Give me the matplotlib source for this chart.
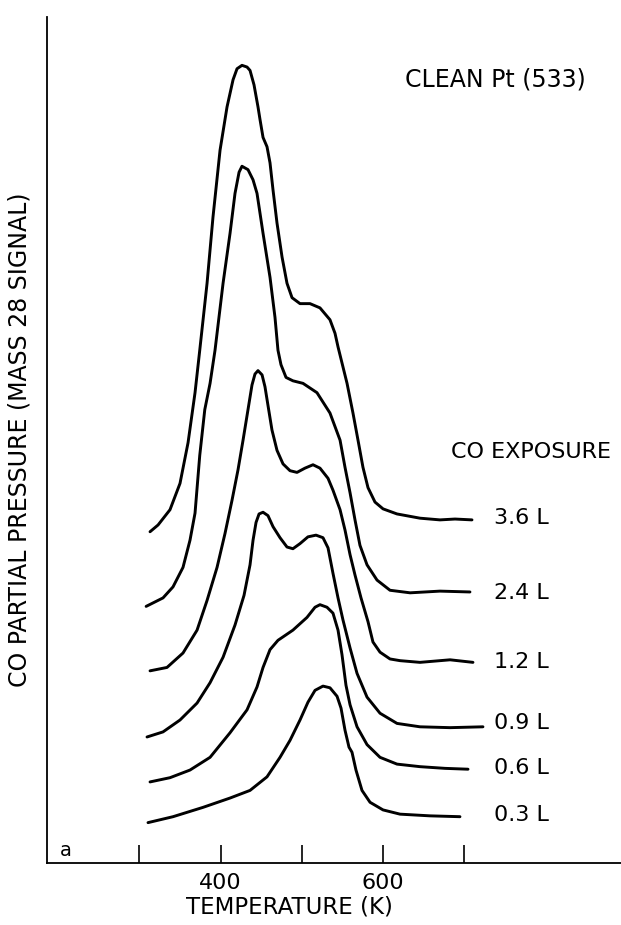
import matplotlib
matplotlib.use('Agg')
import matplotlib.pyplot as plt

plt.rcParams['font.family'] = ['DejaVu Sans']

# ---------------- data (temperature in K, signal in arbitrary units) -------------
exposures = ['3.6 L', '2.4 L', '1.2 L', '0.9 L', '0.6 L', '0.3 L']

t_36 = [313.1, 323.0, 337.7, 350.0, 359.9, 368.5, 374.3, 383.3, 390.6, 399.3, 407.9,
        415.3, 420.2, 426.3, 432.5, 436.2, 441.1, 446.0, 448.5, 452.2, 457.1, 460.8,
        464.5, 469.4, 475.6, 481.7, 487.9, 497.7, 510.0, 522.3, 534.6, 540.8, 544.5,
        555.6, 562.9, 569.1, 575.2, 581.4, 590.0, 599.9, 617.1, 645.4, 670.0, 688.5, 709.4]
s_36 = [39.3, 40.1, 41.9, 45.0, 49.8, 55.7, 60.7, 68.6, 76.4, 84.3, 89.4,
        92.6, 93.9, 94.3, 94.1, 93.7, 92.0, 89.4, 87.9, 85.8, 84.7, 82.8,
        79.6, 75.7, 71.7, 68.6, 66.9, 66.2, 66.2, 65.7, 64.3, 62.7, 61.1,
        56.8, 53.3, 50.1, 46.9, 44.5, 42.8, 42.0, 41.4, 40.9, 40.7, 40.8, 40.7]

t_24 = [308.3, 329.1, 341.4, 353.7, 362.3, 368.5, 374.3, 380.5, 387.0, 393.1, 403.0,
        411.6, 417.7, 422.7, 426.3, 433.7, 439.9, 444.8, 452.2, 460.8, 466.9, 470.6,
        474.3, 480.5, 489.0, 501.4, 518.6, 534.6, 547.0, 553.1, 559.3, 565.4, 571.5,
        580.2, 592.5, 608.5, 633.2, 670.0, 706.9]
s_24 = [30.5, 31.5, 32.8, 35.1, 38.3, 41.5, 48.3, 53.7, 56.8, 60.7, 68.6,
        74.5, 79.2, 81.7, 82.4, 82.0, 80.8, 79.2, 74.5, 69.3, 64.6, 60.7,
        59.0, 57.5, 57.1, 56.8, 55.7, 53.3, 50.1, 46.9, 43.9, 40.7, 37.7,
        35.4, 33.6, 32.4, 32.1, 32.3, 32.2]

t_12 = [313.1, 334.0, 353.7, 371.0, 383.3, 395.6, 405.4, 414.0, 421.4, 427.6,
        433.7, 438.6, 442.3, 446.0, 451.0, 454.6, 458.3, 463.2, 469.4, 476.8,
        485.4, 494.0, 503.8, 513.7, 522.3, 532.2, 538.3, 547.0, 553.1, 559.3,
        565.4, 572.8, 581.4, 587.5, 596.2, 608.5, 620.8, 645.4, 682.4, 710.6]
s_12 = [22.9, 23.3, 25.0, 27.7, 31.2, 35.1, 39.1, 43.0, 46.6, 50.1,
        53.7, 56.6, 57.9, 58.3, 57.8, 56.4, 54.2, 51.3, 48.9, 47.3,
        46.5, 46.3, 46.8, 47.2, 46.8, 45.6, 44.2, 41.9, 39.5, 36.6,
        34.2, 31.5, 28.7, 26.3, 25.1, 24.3, 24.1, 23.9, 24.2, 23.9]

t_09 = [309.4, 329.1, 350.0, 371.0, 387.0, 403.0, 417.7, 428.8, 436.2, 439.9,
        443.6, 447.3, 452.2, 458.3, 464.5, 473.1, 481.7, 489.0, 497.7, 507.5,
        517.4, 526.0, 532.2, 538.3, 544.5, 550.6, 559.3, 567.9, 580.2, 596.2,
        617.1, 645.4, 682.4, 722.9]
s_09 = [15.1, 15.7, 17.1, 19.1, 21.5, 24.5, 28.3, 31.8, 35.4, 38.3,
        40.4, 41.4, 41.6, 41.2, 39.9, 38.6, 37.5, 37.3, 37.9, 38.7,
        38.9, 38.6, 37.4, 34.4, 31.5, 28.9, 25.6, 22.6, 19.8, 17.9,
        16.7, 16.3, 16.2, 16.3]

t_06 = [313.1, 337.7, 362.3, 387.0, 411.6, 432.5, 444.8, 452.2, 460.8, 470.6,
        489.0, 506.3, 516.2, 522.3, 530.9, 538.3, 544.5, 549.4, 554.3, 559.3,
        567.9, 580.2, 596.2, 617.1, 645.4, 676.2, 704.5]
s_06 = [9.8, 10.3, 11.2, 12.7, 15.6, 18.3, 21.0, 23.3, 25.4, 26.5,
        27.7, 29.2, 30.4, 30.7, 30.4, 29.7, 27.7, 24.8, 21.2, 18.9,
        16.3, 14.2, 12.7, 11.9, 11.6, 11.4, 11.3]

t_03 = [310.6, 341.4, 378.3, 411.6, 436.2, 457.1, 473.1, 485.4, 497.7, 507.5,
        516.2, 526.0, 534.6, 543.3, 548.2, 553.1, 558.0, 561.7, 566.6, 574.0,
        583.9, 599.9, 620.8, 657.7, 694.6]
s_03 = [5.0, 5.7, 6.8, 7.9, 8.8, 10.4, 12.7, 14.7, 17.1, 19.2,
        20.6, 21.1, 20.9, 19.9, 18.5, 15.9, 13.9, 13.3, 11.2, 8.8,
        7.4, 6.5, 6.0, 5.8, 5.7]

# vertical position of each exposure label (signal units)
label_y = [40.9, 32.1, 23.9, 16.8, 11.4, 5.9]

xticks = [300, 400, 500, 600, 700]
xtick_labels = ['', '400', '', '600', '']

series = [(t_36, s_36), (t_24, s_24), (t_12, s_12), (t_09, s_09), (t_06, s_06), (t_03, s_03)]

# ---------------- figure -----------------------------------------------------------
W, H = 621, 925
L, B, T = 47, 863, 17          # spine positions in pixels
fig = plt.figure(figsize=(W / 100, H / 100), dpi=100)
ax = fig.add_axes([L / W, (H - B) / H, (W - L) / W, (B - T) / H])

for (t, s), lab, ly in zip(series, exposures, label_y):
    ax.plot(t, s, color='black', lw=2.1, solid_joinstyle='round', solid_capstyle='round')
    ax.text(736, ly, lab, ha='left', va='center', fontsize=16)

ax.set_xlim(186.3, 892.8)
ax.set_ylim(0.24, 100)

for side in ('top', 'right'):
    ax.spines[side].set_visible(False)
for side in ('left', 'bottom'):
    ax.spines[side].set_linewidth(1.3)

ax.set_yticks([])
ax.set_xticks(xticks)
ax.set_xticklabels(xtick_labels)
ax.tick_params(axis='x', direction='in', length=13, width=1.2, pad=7, labelsize=16)

ax.set_xlabel('TEMPERATURE (K)', fontsize=16.5, va='center')
ax.xaxis.set_label_coords((289 - L) / (W - L), (B - 907) / (B - T))

ax.set_ylabel('CO PARTIAL PRESSURE (MASS 28 SIGNAL)', fontsize=17, va='center')
ax.yaxis.set_label_coords((20 - L) / (W - L), (B - 440) / (B - T))

fig.text(495 / W, 1 - 80 / H, 'CLEAN Pt (533)', ha='center', va='center', fontsize=17)
fig.text(531 / W, 1 - 452 / H, 'CO EXPOSURE', ha='center', va='center', fontsize=16)
fig.text(66 / W, 1 - 850 / H, 'a', ha='center', va='center', fontsize=14)

fig.savefig('out.png', dpi=100, facecolor='white')
